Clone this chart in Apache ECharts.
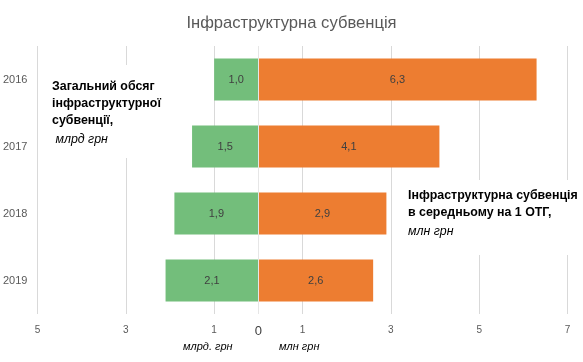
<!DOCTYPE html>
<html>
<head>
<meta charset="utf-8">
<script src="https://cdn.jsdelivr.net/npm/echarts@6/dist/echarts.min.js"></script>
<style>html,body{margin:0;padding:0;background:#fff}#c{width:583px;height:362px}</style>
</head>
<body>
<div id="c"></div>
<script>
const years = ['2016', '2017', '2018', '2019'];
const totalBn = [1.0, 1.5, 1.9, 2.1];      // млрд грн (left, green)
const perOtgMn = [6.3, 4.1, 2.9, 2.6];     // млн грн (right, orange)
const gridTicks = [-5, -3, -1, 0, 1, 3, 5, 7];

const fmt = v => Math.abs(v).toFixed(1).replace('.', ',');
const FONT = 'Liberation Sans';

const chart = echarts.init(document.getElementById('c'), null, {renderer: 'canvas'});
const richText = {
  b: {fontFamily: FONT, fontSize: 12.4, fontWeight: 'bold', color: '#000', lineHeight: 17},
  i: {fontFamily: FONT, fontSize: 12.4, fontStyle: 'italic', color: '#000', lineHeight: 20}
};
chart.setOption({
  animation: false,
  backgroundColor: '#ffffff',
  title: {
    text: 'Інфраструктурна субвенція',
    left: 'center', top: 10,
    textStyle: {fontFamily: FONT, fontSize: 16.6, fontWeight: 'normal', color: '#595959'}
  },
  grid: {left: 36, right: 15.5, top: 46, height: 268, containLabel: false},
  xAxis: {
    type: 'value', min: -5, max: 7, interval: 1,
    splitLine: {show: false},
    axisLine: {show: false},
    axisTick: {show: false},
    axisLabel: {
      margin: 11,
      fontFamily: FONT, fontSize: 10, color: '#595959',
      formatter: v => {
        if (v === 0) return '{z|0}';
        return gridTicks.indexOf(v) >= 0 ? String(Math.abs(v)) : '';
      },
      rich: {z: {fontFamily: FONT, fontSize: 13, color: '#404040', padding: [0, 0, 4, 0]}}
    }
  },
  yAxis: {
    type: 'category', data: years, inverse: true,
    axisLine: {show: false, onZero: false},
    axisTick: {show: false},
    axisLabel: {margin: 10, fontFamily: FONT, fontSize: 11, color: '#595959'}
  },
  series: [
    {
      name: 'bn', type: 'bar', z: 2,
      data: totalBn.map(v => -v),
      barWidth: 42, barGap: '-100%',
      itemStyle: {color: '#73BE7B'},
      label: {show: true, position: 'inside', formatter: p => fmt(p.value),
              fontFamily: FONT, fontSize: 11, color: '#404040'},
      markLine: {
        silent: true, symbol: 'none', z: 1, label: {show: false},
        lineStyle: {color: '#d9d9d9', type: 'solid', width: 1},
        data: gridTicks.filter(t => t !== 0).map(t => ({xAxis: t}))
      }
    },
    {
      name: 'mn', type: 'bar', z: 2,
      data: perOtgMn,
      barWidth: 42, barGap: '-100%',
      itemStyle: {color: '#ED7D31'},
      label: {show: true, position: 'inside', formatter: p => fmt(p.value),
              fontFamily: FONT, fontSize: 11, color: '#404040'},
      markLine: {
        silent: true, symbol: 'none', z: 5, label: {show: false},
        lineStyle: {color: '#e6e6e6', type: 'solid', width: 1},
        data: [{xAxis: 0}]
      }
    }
  ],
  graphic: [
    {type: 'rect', z: 10, shape: {x: 46, y: 65, width: 118, height: 93}, style: {fill: '#ffffff'}},
    {type: 'text', z: 11, left: 52, top: 81, style: {
      text: '{b|Загальний обсяг}\n{b|інфраструктурної}\n{b|субвенції,}\n{i| млрд грн}',
      rich: richText
    }},
    {type: 'rect', z: 10, shape: {x: 400, y: 180, width: 183, height: 75}, style: {fill: '#ffffff'}},
    {type: 'text', z: 11, left: 408, top: 190, style: {
      text: '{b|Інфраструктурна субвенція}\n{b|в середньому на 1 ОТГ,}\n{i|млн грн}',
      rich: richText
    }},
    {type: 'text', top: 341, left: 183, style: {
      text: 'млрд. грн', fontFamily: FONT, fontSize: 11, fontStyle: 'italic', fill: '#000'
    }},
    {type: 'text', top: 341, left: 279, style: {
      text: 'млн грн', fontFamily: FONT, fontSize: 11, fontStyle: 'italic', fill: '#000'
    }}
  ]
});
</script>
</body>
</html>
